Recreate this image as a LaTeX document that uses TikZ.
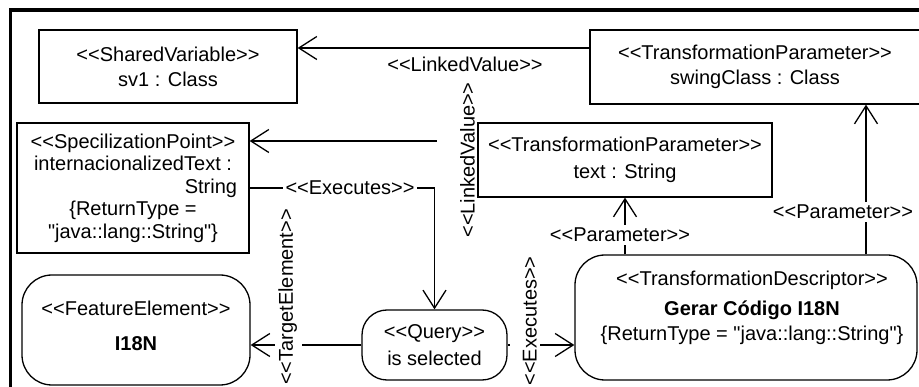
\documentclass[tikz,border=0pt]{standalone}
\usepackage{fontspec}
\newfontfamily\umlfont{Liberation Sans}
\usetikzlibrary{arrows.meta,backgrounds}
\begin{document}
\begin{tikzpicture}[x=1pt, y=-1pt,
  every node/.style={font=\umlfont\fontsize{20}{25}\selectfont, inner sep=0pt},
  umlbox/.style={draw, line width=1.3pt, align=center, inner sep=0pt},
  conn/.style={line width=1.3pt},
  arr/.style={conn, -{Straight Barb[length=18pt,width=23pt]}},
  lbl/.style={fill=white, inner sep=3pt},
  vlbl/.style={lbl, rotate=90, anchor=south}]
\useasboundingbox (0,0) rectangle (919,387);
\clip (0,0) rectangle (919,387);

% package frame
\draw[line width=3.5pt] (10.5,400) -- (10.5,10) -- (930,10);

% elements
\node[umlbox, minimum width=258pt, minimum height=73pt] (sv) at (168,66.5)
  {<<SharedVariable>>\\sv1 : Class};
\node[umlbox, minimum width=330pt, minimum height=74pt] (sc) at (755,67)
  {<<TransformationParameter>>\\swingClass : Class};
\node[umlbox, minimum width=232pt, minimum height=130pt,
      font=\umlfont\fontsize{20}{22.5}\selectfont] (sp) at (133,188)
  {<<SpecilizationPoint>>\\internacionalizedText :\\\makebox[208pt][r]{String}\\\{ReturnType =\\"java::lang::String"\}};
\node[umlbox, minimum width=294pt, minimum height=74pt,
      font=\umlfont\fontsize{20}{27}\selectfont] (tp) at (625,160)
  {<<TransformationParameter>>\\text : String};
\node[umlbox, rounded corners=30pt, minimum width=228pt, minimum height=110pt] (fe) at (136,330) {};
\node[align=center] (fetext) at (136,326) {<<FeatureElement>>\\[10pt]\textbf{I18N}};
\node[umlbox, rounded corners=25pt, minimum width=145pt, minimum height=70pt,
      font=\umlfont\fontsize{20}{27}\selectfont] (q) at (434.5,345)
  {<<Query>>\\is selected};
\node[umlbox, rounded corners=30pt, minimum width=342pt, minimum height=125pt] (desc) at (746,317.5) {};
\node[align=center] (desctext) at (752,308)
  {<<TransformationDescriptor>>\\[5pt]\textbf{Gerar Código I18N}\\\{ReturnType = "java::lang::String"\}};

% connectors, kept beneath the element borders
\begin{pgfonlayer}{background}
  \coordinate (lva) at ([yshift=19pt]sc.west);
  \draw[arr] (lva) -- (lva -| sv.east);
  \node[lbl] (lvtop) at (465,64) {<<LinkedValue>>};

  \coordinate (lvb) at ([yshift=19pt]tp.west);
  \draw[arr] (lvb) -- (lvb -| sp.east);
  \node[vlbl, text height=35pt] (lvside) at (478,160) {<<LinkedValue>>};

  \draw[arr] (sp.east) -| (q.north);
  \node[lbl] (exquery) at (350,188) {<<Executes>>};

  \draw[arr] (q.west) -- (q.west -| fe.east);
  \node[vlbl, text depth=6pt] (target) at (302,297) {<<TargetElement>>};

  \draw[arr] (q.east) -- (q.east -| desc.west);
  \node[vlbl, text height=24pt] (exdesc) at (540,321) {<<Executes>>};

  \draw[arr] (tp.south |- desc.north) -- (tp.south);
  \node[lbl] (partext) at (620,235) {<<Parameter>>};

  \coordinate (pu) at ([xshift=120pt]desc.north);
  \draw[arr] (pu) -- (pu |- sc.south);
  \node[lbl] (parswing) at (843,212) {<<Parameter>>};
\end{pgfonlayer}
\end{tikzpicture}
\end{document}
